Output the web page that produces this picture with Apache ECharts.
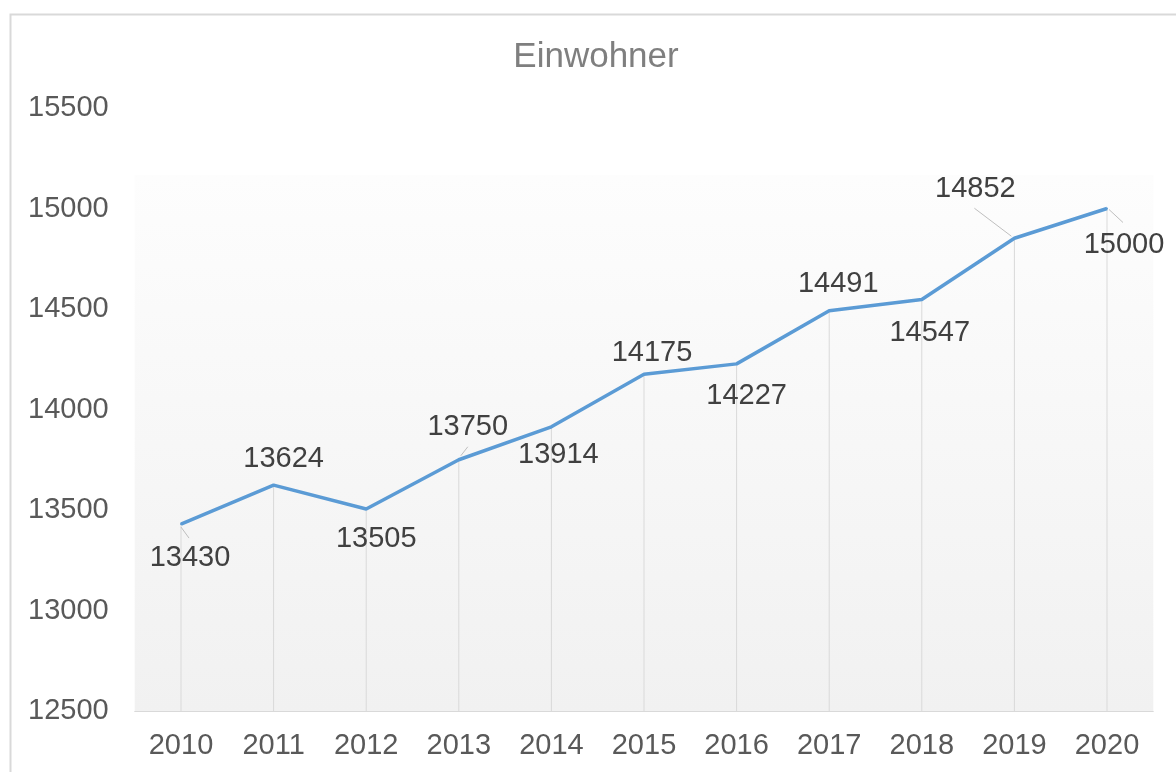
<!DOCTYPE html>
<html><head><meta charset="utf-8">
<script src="https://cdn.jsdelivr.net/npm/echarts@6/dist/echarts.min.js"></script>
<style>html,body{margin:0;padding:0;background:#fff}#c{width:1176px;height:772px}</style>
</head><body><div id="c"></div>
<script>
const years = ['2010','2011','2012','2013','2014','2015','2016','2017','2018','2019','2020'];
const einwohner = [13430,13624,13505,13750,13914,14175,14227,14491,14547,14852,15000];
const yMin = 12500, yMax = 15500, yInterval = 500;
const titleText = 'Einwohner';
// label placement (pixel offsets from each point)
const labelOffsets = [[9,34],[10,-26],[10,30],[9,-33],[7,28],[8,-21],[10,32],[9,-27],[8,33],[-39,-49],[17,36]];
const leaderLines = {0:[[0,3],[8,14]],3:[[2,-4],[9,-13]],9:[[-3,-2],[-40,-30]],10:[[2,1],[16,14]]};

const FONT = '"Liberation Sans", Arial, sans-serif';
const chart = echarts.init(document.getElementById('c'), null, {renderer:'canvas'});
const option = {
  animation: false,
  backgroundColor: '#ffffff',
  title: {
    text: titleText, left: 591, top: 35, textAlign: 'center',
    textStyle: {fontFamily: FONT, fontSize: 35, fontWeight: 'normal', color: '#7f7f7f'}
  },
  grid: {
    left: 134.7, right: 22.7, top: 108, bottom: 61, show: true, borderWidth: 0,
    backgroundColor: new echarts.graphic.LinearGradient(0,0,0,1,[
      {offset:0,color:'#ffffff'},{offset:0.111,color:'#ffffff'},
      {offset:0.112,color:'#fdfdfd'},{offset:1,color:'#f1f1f1'}])
  },
  xAxis: {
    type: 'category', data: years, boundaryGap: true,
    axisLine: {lineStyle: {color: '#d9d9d9', width: 1}},
    axisTick: {show: false},
    axisLabel: {fontFamily: FONT, fontSize: 29, color: '#595959', margin: 20},
    splitLine: {show: false}
  },
  yAxis: {
    type: 'value', min: yMin, max: yMax, interval: yInterval,
    axisLine: {show: false}, axisTick: {show: false},
    axisLabel: {fontFamily: FONT, fontSize: 29, color: '#595959', margin: 26, formatter: v => String(v)},
    splitLine: {show: false}
  },
  series: [
    {
      type: 'bar', data: einwohner, barWidth: 1, z: 1, silent: true,
      itemStyle: {color: '#d9d9d9'}, label: {show: false}
    },
    {
      type: 'line', z: 3,
      data: einwohner.map((v,i)=>({value:v, label:{offset:labelOffsets[i]}})),
      symbol: 'circle', symbolSize: 2, showSymbol: true,
      itemStyle: {color: '#5b9bd5'},
      lineStyle: {color: '#5b9bd5', width: 3.5},
      label: {show: true, position: 'inside', fontFamily: FONT, fontSize: 29, color: '#404040'}
    }
  ],
  graphic: [{
    type: 'rect', id: 'frame', left: 8, top: 12, z: -10, silent: true,
    shape: {width: 1300, height: 900},
    style: {fill: null, stroke: '#d9d9d9', lineWidth: 2}
  }]
};
chart.setOption(option);
const extra = [];
Object.keys(leaderLines).forEach(k => {
  const i = +k;
  const p = chart.convertToPixel({seriesIndex: 1}, [i, einwohner[i]]);
  const [a, b] = leaderLines[k];
  extra.push({
    type: 'line', id: 'leader' + i, z: 5, silent: true,
    shape: {x1: p[0]+a[0], y1: p[1]+a[1], x2: p[0]+b[0], y2: p[1]+b[1]},
    style: {stroke: '#bfbfbf', lineWidth: 1}
  });
});
chart.setOption({graphic: extra});
</script>
</body></html>
